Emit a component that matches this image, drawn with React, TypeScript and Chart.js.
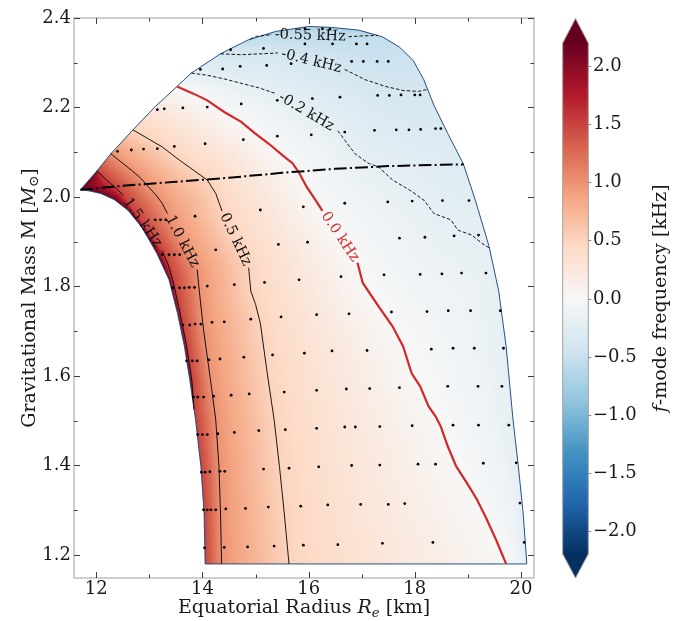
import React, { useEffect, useRef } from 'react';
import { Chart, registerables } from 'chart.js';
Chart.register(...registerables);

type Pt = [number, number];
type GPt = Pt | null;

// ---------- axes ----------
const xRange: Pt = [11.58, 20.245];
const yRange: Pt = [1.1486, 2.4];
const xTickStep = 2;
const yTickStep = 0.2;

// ---------- colour bar ----------
const colorbarRange: Pt = [-2.2, 2.2];
const colorbarTicks = [-2.0, -1.5, -1.0, -0.5, 0.0, 0.5, 1.0, 1.5, 2.0];

// ---------- boundary of the stable-model region ----------
const edgeTop: Pt[] = [
  [11.70, 2.016], [12.01, 2.058], [12.27, 2.096], [12.69, 2.150], [13.11, 2.202], [13.52, 2.247],
  [13.79, 2.277], [14.34, 2.320], [14.86, 2.351], [15.38, 2.370], [16.00, 2.381], [16.42, 2.379],
  [16.94, 2.373], [17.39, 2.358], [17.71, 2.335], [17.97, 2.305], [18.17, 2.262], [18.36, 2.205],
  [18.62, 2.142], [18.91, 2.075], [19.14, 1.993], [19.40, 1.889], [19.58, 1.790], [19.72, 1.666],
  [19.85, 1.502], [19.95, 1.398], [20.04, 1.294], [20.11, 1.18],
];
const edgeLeft: Pt[] = [
  [14.05, 1.18], [14.03, 1.294], [13.97, 1.398], [13.87, 1.502], [13.76, 1.592], [13.66, 1.666],
  [13.53, 1.740], [13.37, 1.815], [13.14, 1.874], [12.86, 1.932], [12.60, 1.970], [12.34, 1.994],
  [12.08, 2.008], [11.85, 2.014],
];

// ---------- f-mode frequency contours (null = label gap) ----------
const contourLevels = [-0.55, -0.4, -0.2, 0.0, 0.5, 1.0, 1.5];
const contourLabels = ['-0.55 kHz', '-0.4 kHz', '-0.2 kHz', '0.0 kHz', '0.5 kHz', '1.0 kHz', '1.5 kHz'];
const contourM055: GPt[] = [[14.90, 2.353], [15.02, 2.359], [15.31, 2.363], null, [16.75, 2.358], [17.00, 2.360], [17.30, 2.361]];
const contourM04: GPt[] = [[14.34, 2.320], [14.73, 2.318], [15.12, 2.320], [15.42, 2.322], null, [16.68, 2.285], [17.07, 2.262], [17.45, 2.247], [17.78, 2.238], [18.07, 2.236], [18.22, 2.240]];
const contourM02: GPt[] = [[13.79, 2.277], [14.09, 2.272], [14.41, 2.264], [14.73, 2.254], [15.06, 2.244], [15.36, 2.232], null,
  [16.55, 2.148], [16.68, 2.127], [16.87, 2.097], [17.13, 2.075], [17.32, 2.067], [17.58, 2.038], [17.91, 2.015], [18.17, 1.993],
  [18.36, 1.963], [18.68, 1.949], [18.81, 1.926], [19.07, 1.915], [19.27, 1.896], [19.42, 1.885]];
const contour00: GPt[] = [[13.52, 2.247], [13.83, 2.231], [14.09, 2.216], [14.41, 2.190], [14.73, 2.168], [14.99, 2.142], [15.25, 2.119],
  [15.51, 2.093], [15.70, 2.075], [15.83, 2.052], [15.96, 2.023], [16.13, 1.993], [16.26, 1.969], null,
  [16.92, 1.853], [17.02, 1.808], [17.32, 1.755], [17.58, 1.711], [17.78, 1.666], [17.94, 1.606], [18.10, 1.577], [18.26, 1.532],
  [18.39, 1.510], [18.49, 1.487], [18.62, 1.443], [18.78, 1.398], [18.98, 1.361], [19.17, 1.324], [19.33, 1.286], [19.53, 1.234], [19.72, 1.18]];
const contour05: GPt[] = [[12.69, 2.150], [12.98, 2.130], [13.24, 2.112], [13.57, 2.082], [13.83, 2.060], [14.09, 2.038], [14.25, 2.008], [14.37, 1.968], null,
  [14.87, 1.842], [14.91, 1.790], [15.00, 1.760], [15.09, 1.718], [15.22, 1.606], [15.35, 1.502], [15.45, 1.398], [15.54, 1.294], [15.63, 1.18]];
const contour10: GPt[] = [[12.27, 2.097], [12.45, 2.080], [12.66, 2.060], [12.82, 2.044], [12.98, 2.023], [13.12, 2.005], [13.24, 1.986], [13.34, 1.963], null,
  [13.90, 1.838], [13.94, 1.790], [14.02, 1.703], [14.15, 1.592], [14.25, 1.502], [14.31, 1.398], [14.34, 1.294], [14.36, 1.18]];
const contour15: GPt[] = [[12.01, 2.059], [12.20, 2.037], [12.36, 2.021], [12.50, 2.005], null,
  [13.24, 1.880], [13.35, 1.850], [13.44, 1.815], [13.57, 1.745], [13.70, 1.668], [13.80, 1.590], [13.84, 1.525]];
const contourPaths: GPt[][] = [contourM055, contourM04, contourM02, contour00, contour05, contour10, contour15];

// ---------- dash-dot line ----------
const dashDotLine: Pt[] = [[11.70, 2.016], [12.5, 2.025], [13.5, 2.034], [14.5, 2.043], [15.5, 2.054], [16.5, 2.063], [17.5, 2.069], [18.5, 2.072], [18.92, 2.073]];

// ---------- computed models ----------
const modelPoints: Pt[] = [
  [14.04, 1.216], [14.41, 1.217], [14.85, 1.218], [15.35, 1.220], [15.90, 1.222], [16.55, 1.223], [17.39, 1.226], [18.34, 1.228], [20.06, 1.228],
  [14.02, 1.301], [14.09, 1.301], [14.16, 1.301], [14.25, 1.301], [14.44, 1.303], [14.81, 1.304], [15.24, 1.307], [15.85, 1.309], [16.36, 1.312], [16.98, 1.313], [17.50, 1.313], [17.81, 1.315], [19.98, 1.316],
  [13.98, 1.385], [14.05, 1.385], [14.14, 1.386], [14.33, 1.387], [14.42, 1.387], [15.15, 1.392], [15.63, 1.394], [16.19, 1.397], [16.81, 1.400], [17.34, 1.401], [18.06, 1.403], [18.39, 1.403], [19.29, 1.405], [19.91, 1.406],
  [13.91, 1.469], [14.00, 1.469], [14.09, 1.469], [14.29, 1.471], [14.60, 1.474], [15.06, 1.478], [15.56, 1.480], [16.15, 1.483], [16.68, 1.486], [16.88, 1.486], [17.34, 1.487], [17.95, 1.489], [18.72, 1.490], [19.20, 1.490], [19.77, 1.490],
  [13.83, 1.553], [13.91, 1.553], [14.02, 1.553], [14.21, 1.555], [14.54, 1.557], [14.88, 1.560], [15.54, 1.564], [16.15, 1.568], [16.71, 1.571], [17.15, 1.572], [17.71, 1.574], [18.62, 1.577], [19.19, 1.577], [19.64, 1.577],
  [13.70, 1.634], [13.81, 1.634], [13.90, 1.634], [14.12, 1.636], [14.33, 1.638], [14.78, 1.642], [15.32, 1.647], [15.92, 1.651], [16.44, 1.656], [17.10, 1.657], [18.31, 1.660], [18.72, 1.662], [19.12, 1.662], [19.67, 1.662],
  [13.63, 1.714], [13.76, 1.714], [13.86, 1.716], [13.97, 1.716], [14.18, 1.720], [14.41, 1.721], [14.91, 1.727], [15.48, 1.732], [16.15, 1.737], [16.76, 1.739], [17.56, 1.743], [18.23, 1.744], [18.63, 1.746], [19.05, 1.746], [19.61, 1.746],
  [13.44, 1.797], [13.57, 1.797], [13.66, 1.797], [13.75, 1.798], [13.85, 1.798], [14.09, 1.801], [14.60, 1.804], [15.17, 1.809], [15.82, 1.815], [16.61, 1.822], [17.42, 1.826], [18.10, 1.827], [18.51, 1.828], [18.88, 1.830], [19.34, 1.830],
  [13.24, 1.871], [13.37, 1.871], [13.47, 1.871], [13.57, 1.871], [14.25, 1.882], [15.43, 1.894], [15.98, 1.899], [17.71, 1.908], [18.19, 1.910], [18.74, 1.913], [19.20, 1.915],
  [13.11, 1.949], [13.21, 1.949], [13.31, 1.949], [13.86, 1.957], [15.09, 1.971], [15.90, 1.978], [16.68, 1.986], [17.49, 1.989], [17.95, 1.991], [18.52, 1.992], [19.02, 1.992],
  [12.40, 2.102], [12.66, 2.105], [12.89, 2.107], [13.15, 2.108], [13.47, 2.113], [14.05, 2.119], [14.77, 2.128], [15.41, 2.136], [16.05, 2.139], [16.68, 2.145], [17.24, 2.149], [17.65, 2.150], [17.89, 2.150], [18.11, 2.151], [18.39, 2.153], [18.49, 2.153],
  [13.15, 2.195], [13.28, 2.197], [13.63, 2.199], [14.09, 2.201], [14.73, 2.208], [15.41, 2.216], [16.07, 2.220], [16.59, 2.223], [17.30, 2.227], [17.52, 2.227], [17.74, 2.228], [18.00, 2.228], [18.10, 2.228],
  [13.96, 2.285], [14.38, 2.286], [14.71, 2.292], [15.21, 2.294], [15.67, 2.298], [16.81, 2.303], [17.03, 2.303], [17.29, 2.303], [17.50, 2.303],
  [14.53, 2.329], [15.15, 2.332],
  [15.93, 2.342], [16.45, 2.342], [16.90, 2.342], [17.10, 2.342], [15.93, 2.376], [16.26, 2.376], [16.40, 2.375],
];

// ---------- styling ----------
const FONT = "'DejaVu Serif', 'Liberation Serif', serif";
const RED = '#d62728';
const RDBU_R = [[5, 48, 97], [33, 102, 172], [67, 147, 195], [146, 197, 222], [209, 229, 240], [247, 247, 247],
  [253, 219, 199], [244, 165, 130], [214, 96, 77], [178, 24, 43], [103, 0, 31]];

function cmap(v: number): number[] {
  let t = (v - colorbarRange[0]) / (colorbarRange[1] - colorbarRange[0]);
  t = Math.max(0, Math.min(1, t));
  const p = t * 10;
  const i = Math.min(9, Math.floor(p));
  const f = p - i;
  const a = RDBU_R[i], b = RDBU_R[i + 1];
  return [a[0] + (b[0] - a[0]) * f, a[1] + (b[1] - a[1]) * f, a[2] + (b[2] - a[2]) * f];
}

function segD2(px: number, py: number, a: number[], b: number[]) {
  const dx = b[0] - a[0], dy = b[1] - a[1];
  const L = dx * dx + dy * dy;
  let t = L > 0 ? ((px - a[0]) * dx + (py - a[1]) * dy) / L : 0;
  t = t < 0 ? 0 : t > 1 ? 1 : t;
  const ex = a[0] + t * dx - px, ey = a[1] + t * dy - py;
  return ex * ex + ey * ey;
}
function polyDist(px: number, py: number, pts: number[][], closed = false) {
  let m = Infinity;
  const n = pts.length;
  const segs = closed ? n : n - 1;
  for (let i = 0; i < segs; i++) {
    const d = segD2(px, py, pts[i], pts[(i + 1) % n]);
    if (d < m) m = d;
  }
  return Math.sqrt(m);
}
function nearestSeg(pt: number[], poly: number[][]) {
  let best = 0, bd = Infinity;
  const n = poly.length;
  for (let i = 0; i < n; i++) {
    const d = segD2(pt[0], pt[1], poly[i], poly[(i + 1) % n]);
    if (d < bd) { bd = d; best = i; }
  }
  return best;
}

const fieldCache = new WeakMap<any, { key: string; canvas: HTMLCanvasElement }>();

const fieldPlugin = {
  id: 'fieldPlugin',
  beforeDatasetsDraw(chart: any) {
    const xs = chart.scales.x, ys = chart.scales.y;
    const r = chart.currentDevicePixelRatio || 1;
    const W = chart.canvas.width, H = chart.canvas.height;
    const key = `${W}x${H}:${xs.min}:${xs.max}:${ys.min}:${ys.max}`;
    let cached = fieldCache.get(chart);
    if (!cached || cached.key !== key) {
      const P = (p: Pt) => [xs.getPixelForValue(p[0]) * r, ys.getPixelForValue(p[1]) * r];
      const boundary = [...edgeTop, ...edgeLeft].map(P);
      const lines = contourPaths.map((c) => (c.filter(Boolean) as Pt[]).map(P));
      const n = boundary.length;
      const regions = lines.map((pts) => {
        const s = nearestSeg(pts[0], boundary);
        const e = nearestSeg(pts[pts.length - 1], boundary);
        const out = pts.slice();
        let j = (e + 1) % n;
        const stop = (s + 1) % n;
        let guard = 0;
        while (j !== stop && guard++ < n + 2) { out.push(boundary[j]); j = (j + 1) % n; }
        return out;
      });
      // boundary stretches that carry the level of the neighbouring contour
      const p15 = contour15.filter(Boolean) as Pt[];
      const end15 = p15[p15.length - 1];
      const lowerLeft = [...edgeLeft.filter((p) => p[1] < end15[1]), end15].map(P);
      const pm02 = contourM02.filter(Boolean) as Pt[];
      const endM02 = pm02[pm02.length - 1];
      const lowerRight = [endM02, ...edgeTop.filter((p) => p[1] < endM02[1])].map(P);

      const mc = document.createElement('canvas');
      mc.width = W; mc.height = H;
      const mctx = mc.getContext('2d', { willReadFrequently: true }) as CanvasRenderingContext2D;
      const maskOf = (poly: number[][]) => {
        mctx.clearRect(0, 0, W, H);
        mctx.beginPath();
        poly.forEach((p, i) => (i ? mctx.lineTo(p[0], p[1]) : mctx.moveTo(p[0], p[1])));
        mctx.closePath();
        mctx.fillStyle = '#000';
        mctx.fill();
        return mctx.getImageData(0, 0, W, H).data;
      };
      const shape = maskOf(boundary);
      const masks = regions.map(maskOf);
      const img = mctx.createImageData(W, H);
      const d = img.data;
      const L = contourLevels;
      const i0 = L.indexOf(0.0);
      for (let y = 0; y < H; y++) {
        for (let x = 0; x < W; x++) {
          const idx = (y * W + x) * 4;
          const a = shape[idx + 3];
          if (!a) continue;
          const px = x + 0.5, py = y + 0.5;
          let k = 0;
          for (let m = 0; m < masks.length; m++) if (masks[m][idx + 3] >= 128) k++;
          let v: number;
          if (k === 0) {
            const dC = polyDist(px, py, lines[0]);
            const dB = polyDist(px, py, boundary, true);
            v = L[0] - 0.1 * dC / (dC + dB + 1e-6);
          } else if (k >= L.length) {
            const dC = polyDist(px, py, lines[L.length - 1]);
            const dB = polyDist(px, py, boundary, true);
            v = L[L.length - 1] + 0.65 * dC / (dC + dB + 1e-6);
          } else {
            const lo = L[k - 1], hi = L[k];
            let dLo = polyDist(px, py, lines[k - 1]);
            let dHi = polyDist(px, py, lines[k]);
            if (k === L.length - 1) dHi = Math.min(dHi, polyDist(px, py, lowerLeft));
            if (k === i0) dLo = Math.min(dLo, 1.6 * polyDist(px, py, lowerRight));
            v = lo + (hi - lo) * dLo / (dLo + dHi + 1e-6);
          }
          const c = cmap(v);
          d[idx] = c[0]; d[idx + 1] = c[1]; d[idx + 2] = c[2]; d[idx + 3] = a;
        }
      }
      mctx.clearRect(0, 0, W, H);
      mctx.putImageData(img, 0, 0);
      cached = { key, canvas: mc };
      fieldCache.set(chart, cached);
    }
    const ctx = chart.ctx;
    ctx.save();
    ctx.setTransform(1, 0, 0, 1, 0, 0);
    ctx.drawImage(cached.canvas, 0, 0);
    ctx.restore();
  },
};

type Run = { t: string; it?: boolean; sub?: boolean };
function drawRich(ctx: CanvasRenderingContext2D, runs: Run[], cx: number, cy: number, rot: number, size: number, color: string) {
  ctx.save();
  ctx.translate(cx, cy);
  ctx.rotate(rot);
  const fontOf = (r: Run) => `${r.it ? 'italic ' : ''}${r.sub ? size * 0.7 : size}px ${FONT}`;
  let w = 0;
  for (const r of runs) { ctx.font = fontOf(r); w += ctx.measureText(r.t).width; }
  let x = -w / 2;
  ctx.textBaseline = 'alphabetic';
  ctx.textAlign = 'left';
  ctx.fillStyle = color;
  for (const r of runs) {
    ctx.font = fontOf(r);
    ctx.fillText(r.t, x, r.sub ? size * 0.2 : 0);
    x += ctx.measureText(r.t).width;
  }
  ctx.restore();
}

const labelPlugin = {
  id: 'labelPlugin',
  afterDatasetsDraw(chart: any) {
    const { ctx } = chart;
    const xs = chart.scales.x, ys = chart.scales.y;
    contourPaths.forEach((path, i) => {
      const g = path.indexOf(null);
      if (g < 1) return;
      const a = path[g - 1] as Pt, b = path[g + 1] as Pt;
      const ax = xs.getPixelForValue(a[0]), ay = ys.getPixelForValue(a[1]);
      const bx = xs.getPixelForValue(b[0]), by = ys.getPixelForValue(b[1]);
      let ang = Math.atan2(by - ay, bx - ax);
      if (ang > Math.PI / 2) ang -= Math.PI;
      if (ang < -Math.PI / 2) ang += Math.PI;
      ctx.save();
      ctx.translate((ax + bx) / 2, (ay + by) / 2);
      ctx.rotate(ang);
      ctx.font = `14.5px ${FONT}`;
      ctx.textAlign = 'center';
      ctx.textBaseline = 'middle';
      ctx.fillStyle = contourLevels[i] === 0 ? RED : '#111';
      ctx.fillText(contourLabels[i], 0, 0);
      ctx.restore();
    });
  },
};

const framePlugin = {
  id: 'framePlugin',
  afterDraw(chart: any) {
    const { ctx, chartArea: ca } = chart;
    const xs = chart.scales.x, ys = chart.scales.y;
    ctx.save();
    ctx.strokeStyle = '#b4b4b4';
    ctx.lineWidth = 1.3;
    ctx.strokeRect(ca.left, ca.top, ca.right - ca.left, ca.bottom - ca.top);
    ctx.strokeStyle = '#3c3c3c';
    ctx.lineWidth = 1;
    const tick = (x1: number, y1: number, x2: number, y2: number) => { ctx.beginPath(); ctx.moveTo(x1, y1); ctx.lineTo(x2, y2); ctx.stroke(); };
    for (let i = Math.ceil(xs.min); i <= Math.floor(xs.max); i++) {
      const px = Math.round(xs.getPixelForValue(i)) + 0.5;
      const len = i % xTickStep === 0 ? 6 : 3.5;
      tick(px, ca.bottom, px, ca.bottom - len);
      tick(px, ca.top, px, ca.top + len);
    }
    for (let i = Math.ceil(ys.min * 10 - 1e-6); i <= Math.floor(ys.max * 10 + 1e-6); i++) {
      const py = Math.round(ys.getPixelForValue(i / 10)) + 0.5;
      const len = i % Math.round(yTickStep * 10) === 0 ? 6 : 3.5;
      tick(ca.left, py, ca.left + len, py);
      tick(ca.right, py, ca.right - len, py);
    }
    ctx.restore();
    drawRich(ctx, [{ t: 'Equatorial Radius ' }, { t: 'R', it: true }, { t: 'e', it: true, sub: true }, { t: ' [km]' }],
      (ca.left + ca.right) / 2, 613, 0, 19, '#1a1a1a');
    drawRich(ctx, [{ t: 'Gravitational Mass M [' }, { t: 'M', it: true }, { t: '\u2299', sub: true }, { t: ']' }],
      34.5, (ca.top + ca.bottom) / 2, -Math.PI / 2, 19, '#1a1a1a');

    const cb = { left: 562.7, right: 588.3, top: 43, bottom: 554, tipTop: 18.5, tipBottom: 578 };
    const vy = (v: number) => cb.bottom - (v - colorbarRange[0]) / (colorbarRange[1] - colorbarRange[0]) * (cb.bottom - cb.top);
    const midX = (cb.left + cb.right) / 2;
    ctx.save();
    const grad = ctx.createLinearGradient(0, cb.bottom, 0, cb.top);
    RDBU_R.forEach((c, i) => grad.addColorStop(i / 10, `rgb(${c[0]},${c[1]},${c[2]})`));
    ctx.fillStyle = grad;
    ctx.fillRect(cb.left, cb.top, cb.right - cb.left, cb.bottom - cb.top);
    const hi = RDBU_R[10], lo = RDBU_R[0];
    ctx.fillStyle = `rgb(${hi[0]},${hi[1]},${hi[2]})`;
    ctx.beginPath(); ctx.moveTo(cb.left, cb.top + 0.5); ctx.lineTo(midX, cb.tipTop); ctx.lineTo(cb.right, cb.top + 0.5); ctx.closePath(); ctx.fill();
    ctx.fillStyle = `rgb(${lo[0]},${lo[1]},${lo[2]})`;
    ctx.beginPath(); ctx.moveTo(cb.left, cb.bottom - 0.5); ctx.lineTo(midX, cb.tipBottom); ctx.lineTo(cb.right, cb.bottom - 0.5); ctx.closePath(); ctx.fill();
    ctx.strokeStyle = '#a0a0a0';
    ctx.lineWidth = 1;
    ctx.beginPath();
    ctx.moveTo(cb.left, cb.bottom); ctx.lineTo(cb.left, cb.top); ctx.lineTo(midX, cb.tipTop); ctx.lineTo(cb.right, cb.top);
    ctx.lineTo(cb.right, cb.bottom); ctx.lineTo(midX, cb.tipBottom); ctx.closePath();
    ctx.stroke();
    ctx.font = `18px ${FONT}`;
    ctx.textAlign = 'left';
    ctx.textBaseline = 'middle';
    ctx.fillStyle = '#1a1a1a';
    ctx.strokeStyle = '#888';
    colorbarTicks.forEach((v) => {
      const py = Math.round(vy(v)) + 0.5;
      ctx.beginPath(); ctx.moveTo(cb.right, py); ctx.lineTo(cb.right + 3, py); ctx.stroke();
      const s = (v < 0 ? '\u2212' : '') + Math.abs(v).toFixed(1);
      ctx.fillText(s, 593, py);
    });
    ctx.restore();
    drawRich(ctx, [{ t: 'f', it: true }, { t: '-mode frequency [kHz]' }], 666, (cb.tipTop + cb.tipBottom) / 2, -Math.PI / 2, 19, '#1a1a1a');
  },
};

export default function App() {
  const ref = useRef<HTMLCanvasElement>(null);
  useEffect(() => {
    const toXY = (p: GPt) => (p ? { x: p[0], y: p[1] } : { x: NaN, y: NaN });
    const contourSets = contourPaths.map((path, i) => {
      const lv = contourLevels[i];
      return {
        type: 'line' as const,
        data: path.map(toXY),
        showLine: true,
        borderColor: lv === 0 ? RED : '#000',
        borderWidth: lv === 0 ? 2.2 : 0.9,
        borderDash: lv < 0 ? [3.5, 2] : [],
        pointRadius: 0,
        tension: 0,
        spanGaps: false,
        fill: false,
      };
    });
    const chart = new Chart(ref.current as HTMLCanvasElement, {
      type: 'scatter',
      data: {
        datasets: [
          { type: 'scatter', data: modelPoints.map(toXY), pointRadius: 1.4, pointBackgroundColor: '#000', pointBorderWidth: 0, showLine: false } as any,
          { type: 'line', data: dashDotLine.map(toXY), showLine: true, borderColor: '#000', borderWidth: 2, borderDash: [12.8, 3.2, 2, 3.2], pointRadius: 0, tension: 0, fill: false } as any,
          ...contourSets,
          { type: 'line', data: [...edgeTop, ...edgeLeft, edgeTop[0]].map(toXY), showLine: true, borderColor: 'rgba(28,72,120,0.95)', borderWidth: 1, pointRadius: 0, tension: 0, fill: false } as any,
        ],
      },
      options: {
        animation: false,
        responsive: true,
        maintainAspectRatio: false,
        events: [],
        layout: { padding: { top: 18, right: 151, left: 0, bottom: 0 } },
        plugins: { legend: { display: false }, tooltip: { enabled: false } },
        scales: {
          x: {
            type: 'linear',
            min: xRange[0],
            max: xRange[1],
            afterFit: (s: any) => { s.height = 43; },
            grid: { display: false, drawTicks: false },
            border: { display: false },
            ticks: {
              stepSize: xTickStep,
              includeBounds: false,
              maxRotation: 0,
              padding: 1,
              color: '#1a1a1a',
              font: { family: FONT, size: 18 },
              callback: (v: any) => String(Math.round(Number(v))),
            },
          },
          y: {
            type: 'linear',
            min: yRange[0],
            max: yRange[1],
            afterFit: (s: any) => { s.width = 74; },
            grid: { display: false, drawTicks: false },
            border: { display: false },
            ticks: {
              stepSize: yTickStep,
              includeBounds: false,
              padding: 3,
              color: '#1a1a1a',
              font: { family: FONT, size: 18 },
              callback: (v: any) => Number(v).toFixed(1),
            },
          },
        },
      } as any,
      plugins: [fieldPlugin, labelPlugin, framePlugin],
    } as any);
    return () => chart.destroy();
  }, []);
  return (
    <div style={{ position: 'absolute', left: 0, top: 0, width: 685, height: 621 }}>
      <canvas ref={ref} />
    </div>
  );
}
